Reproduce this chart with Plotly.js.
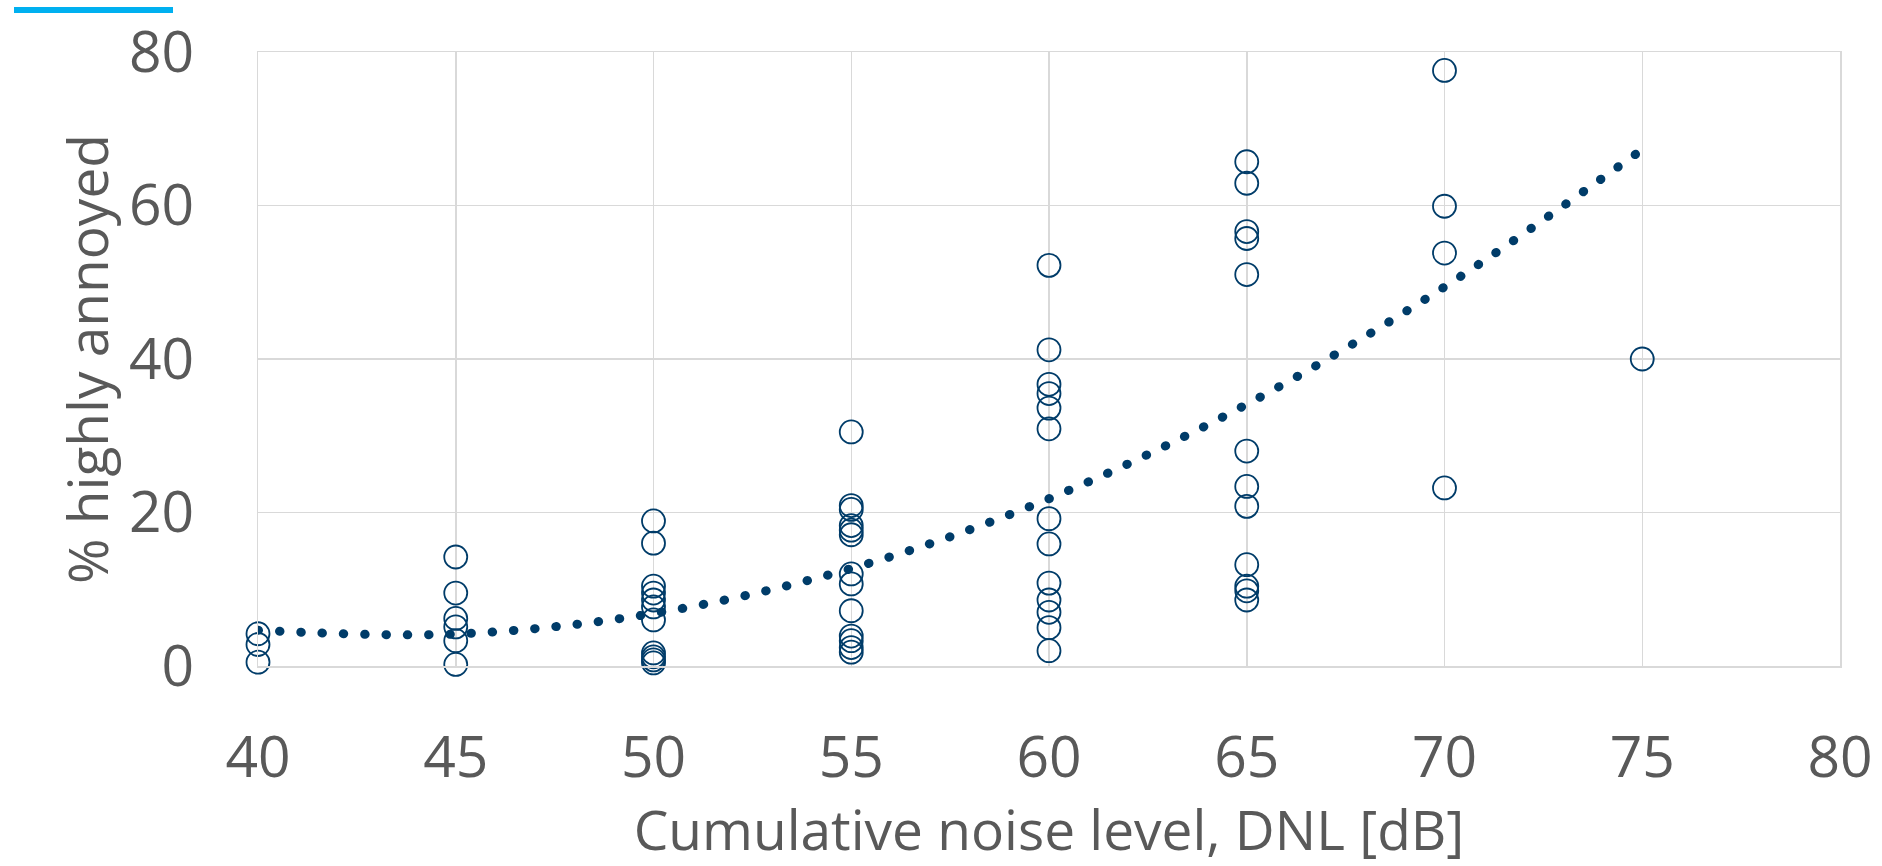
<!DOCTYPE html>
<html>
<head>
<meta charset="utf-8">
<script src="https://cdn.plot.ly/plotly-3.0.1.min.js"></script>
<style>
  html, body { margin: 0; padding: 0; background: #ffffff; }
  #wrap { position: relative; width: 1882px; height: 866px; }
  #chart { width: 1882px; height: 866px; }
  #accent { position: absolute; left: 14px; top: 7px; width: 159px; height: 6px; background: #00B0F0; }
  /* round caps turn the short dashes of the fitted curve into dots */
  .scatterlayer .js-line { stroke-linecap: round; }
</style>
</head>
<body>
<div id="wrap">
  <div id="chart"></div>
  <div id="accent"></div>
</div>
<script>
// Survey results: share of respondents highly annoyed at each noise level
const level40 = [4.2, 2.8, 0.5];
const level45 = [14.2, 9.5, 6.2, 5.1, 3.3, 0.2];
const level50 = [18.9, 16.0, 10.4, 9.5, 8.6, 7.7, 6.0, 1.7, 1.2, 0.8, 0.4];
const level55 = [30.5, 20.9, 20.4, 18.3, 17.7, 17.1, 12.0, 10.7, 7.2, 3.9, 3.3, 2.4, 1.8];
const level60 = [52.2, 41.2, 36.7, 35.5, 33.6, 30.9, 19.2, 15.9, 10.8, 8.6, 7.0, 5.0, 2.0];
const level65 = [65.7, 62.9, 56.6, 55.7, 51.0, 28.0, 23.4, 20.8, 13.2, 10.4, 9.8, 8.6];
const level70 = [77.6, 59.9, 53.8, 23.2];
const level75 = [40.0];

const dnlLevels = [40, 45, 50, 55, 60, 65, 70, 75];
const surveyGroups = [level40, level45, level50, level55, level60, level65, level70, level75];

// Fitted trend curve
const trendDnl = [40, 45, 50, 55, 60, 65, 70, 75];
const trendHA  = [4.66, 4.17, 6.85, 12.7, 21.8, 34.1, 49.4, 67.3];

const xTicks = [40, 45, 50, 55, 60, 65, 70, 75, 80];
const yTicks = [0, 20, 40, 60, 80];

const pointX = [];
const pointY = [];
surveyGroups.forEach((grp, i) => {
  grp.forEach(v => { pointX.push(dnlLevels[i]); pointY.push(v); });
});

const navy = '#003C69';
const grey = '#595959';
const gridCol = '#D9D9D9';
const fontFam = '"Open Sans", "Noto Sans", sans-serif';

const traces = [
  {
    x: pointX, y: pointY,
    type: 'scatter', mode: 'markers',
    marker: { symbol: 'circle-open', size: 23, color: navy, line: { width: 1.8, color: navy } },
    hoverinfo: 'x+y', cliponaxis: false
  },
  {
    x: trendDnl, y: trendHA,
    type: 'scatter', mode: 'lines',
    line: { color: navy, width: 9, dash: '0.5px,20.8px', shape: 'spline', smoothing: 1 },
    hoverinfo: 'skip', cliponaxis: false
  }
];

const layout = {
  width: 1882, height: 866,
  margin: { l: 258, r: 42, t: 52, b: 200 },
  paper_bgcolor: '#ffffff', plot_bgcolor: '#ffffff',
  showlegend: false,
  font: { family: fontFam, color: grey },
  xaxis: {
    range: [40, 80], tickvals: xTicks, ticktext: xTicks.map(String),
    showgrid: true, gridcolor: gridCol, gridwidth: 1.5,
    zeroline: false, showline: true, mirror: true, linecolor: gridCol, linewidth: 1.5,
    ticks: '',
    ticklabelstandoff: 41,
    tickfont: { family: fontFam, size: 57, color: grey },
    title: { text: 'Cumulative noise level, DNL [dB]', font: { family: fontFam, size: 55, color: grey }, standoff: 23 },
    fixedrange: true
  },
  yaxis: {
    range: [0, 80], tickvals: yTicks, ticktext: yTicks.map(String),
    showgrid: true, gridcolor: gridCol, gridwidth: 1.5,
    zeroline: false, showline: true, mirror: true, linecolor: gridCol, linewidth: 1.5,
    ticks: '',
    ticklabelstandoff: 51,
    tickfont: { family: fontFam, size: 57, color: grey },
    title: { text: '% highly annoyed', font: { family: fontFam, size: 55, color: grey }, standoff: 2 },
    fixedrange: true
  }
};

Plotly.newPlot('chart', traces, layout, { displayModeBar: false, staticPlot: true });
</script>
</body>
</html>
